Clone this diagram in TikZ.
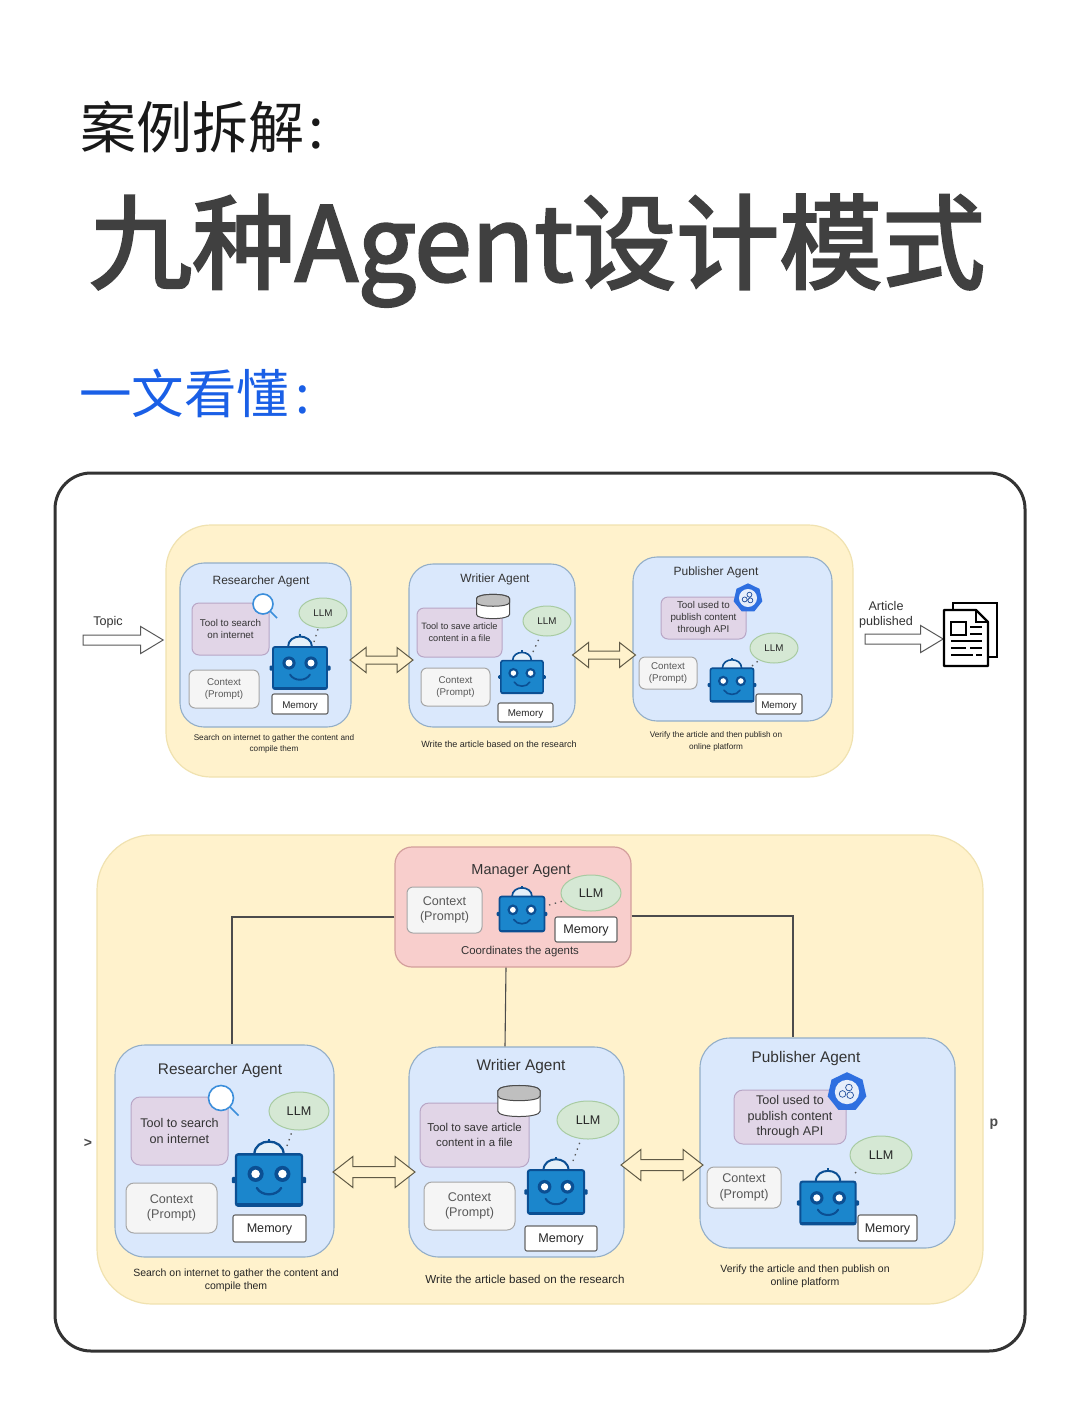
\documentclass[tikz,border=0pt]{standalone}
\usepackage{fontspec}
\setmainfont{Liberation Sans}
\newfontfamily\cjk{Noto Sans CJK SC}
\newfontfamily\cjkfat[FakeBold=2.6]{Noto Sans CJK SC}
\usetikzlibrary{shapes.geometric,shapes.arrows}

\definecolor{paneyellow}{HTML}{FFF2CC}
\definecolor{paneline}{HTML}{F0E2B0}
\definecolor{agentblue}{HTML}{DAE8FC}
\definecolor{agentline}{HTML}{93AEC8}
\definecolor{toolpurple}{HTML}{E1D5E7}
\definecolor{toolline}{HTML}{B8A6C6}
\definecolor{llmgreen}{HTML}{D5E8D4}
\definecolor{llmline}{HTML}{A8CBA2}
\definecolor{mgrred}{HTML}{F8CECC}
\definecolor{mgrline}{HTML}{D39F9C}
\definecolor{robotblue}{HTML}{1B86CC}
\definecolor{robotnavy}{HTML}{0B4F93}
\definecolor{inkgrey}{HTML}{333333}
\definecolor{lensblue}{HTML}{3B8EDB}
\definecolor{badgeblue}{HTML}{2E6FE0}
\definecolor{headblue}{HTML}{1A5FE6}

\tikzset{
	agent/.style={draw=agentline, fill=agentblue, line width=1.1pt, rounded corners=24pt},
	tool/.style={draw=toolline, fill=toolpurple, line width=1pt, rounded corners=7pt, align=center, text=inkgrey},
	context/.style={draw=black!35, fill=black!4, line width=1pt, rounded corners=6pt, align=center, text=black!65},
	memory/.style={draw=black!60, fill=white, line width=1.1pt, rounded corners=2pt, text=black!85, text height=1em, text depth=.2em},
	llm/.style={ellipse, draw=llmline, fill=llmgreen, line width=1pt, inner sep=0pt, text=black!85},
	llmlink/.style={line width=1.3pt, dash pattern=on 1.4pt off 4.6pt, black!65},
	wire/.style={draw=black!70, line width=1.1pt},
	title/.style={inkgrey, font=\fontsize{12}{14}\selectfont},
	bigtitle/.style={inkgrey, font=\fontsize{15.4}{18}\selectfont},
	note/.style={black!85, align=center, font=\fontsize{8.2}{11.5}\selectfont},
	bignote/.style={black!85, align=center, font=\fontsize{10.5}{13}\selectfont},
	small/.style={font=\fontsize{9.8}{12}\selectfont},
	large/.style={font=\fontsize{12.6}{15.5}\selectfont},
	thinarrow/.style={single arrow, draw=black!65, fill=white, line width=1pt, inner sep=4.5pt, minimum height=80pt,
		single arrow head extend=8.5pt, single arrow tip angle=62},
	swap/.style={double arrow, draw=black!60!paneline, fill=paneyellow, line width=1pt, inner sep=3.5pt, minimum height=63pt,
		double arrow head extend=8.5pt, double arrow tip angle=76},
	bigswap/.style={swap, inner sep=5pt, minimum height=82pt, double arrow head extend=10pt},
	pics/robot/.style={code={
		\draw[robotnavy, fill=robotblue!12] (-12,-21) .. controls (-12,-35) and (12,-35) .. (12,-21);
		\draw[robotnavy] (0,-31) -- (0,-34);
		\fill[robotnavy, rounded corners=1pt] (-30.5,-2.5) rectangle (-26,2.5) (26,-2.5) rectangle (30.5,2.5);
		\draw[robotnavy, fill=robotblue, rounded corners=2pt] (-27,-21) rectangle (27,21);
		\fill[robotnavy] (-27,19) rectangle (27,21);
		\fill[robotnavy] (-11,-5) circle (6.6) (11,-5) circle (6.6);
		\fill[white] (-11,-5) circle (3.5) (11,-5) circle (3.5);
		\draw[robotnavy, line cap=round] (-10,6.5) .. controls (-6,13.5) and (6,13.5) .. (10,6.5);
	}},
	pics/lens/.style={code={
		\draw[lensblue, line width=1.6pt] (7,7) -- (14,14);
		\draw[lensblue, fill=white, line width=1.6pt] (0,0) circle (10);
	}},
	pics/store/.style={code={
		\draw[black!70, fill=white, line width=1pt] (-16.5,-8) -- (-16.5,8) .. controls (-16.5,13.5) and (16.5,13.5) .. (16.5,8) -- (16.5,-8)
			.. controls (16.5,-13.5) and (-16.5,-13.5) .. (-16.5,-8);
		\draw[black!70, fill=black!25, line width=1pt] (-16.5,-8) .. controls (-16.5,-13.5) and (16.5,-13.5) .. (16.5,-8)
			-- (16.5,-4) .. controls (16.5,1) and (-16.5,1) .. (-16.5,-4) -- cycle;
	}},
	pics/badge/.style={code={
		\node[regular polygon, regular polygon sides=7, fill=badgeblue, minimum size=31pt, inner sep=0pt, transform shape] (poly) {};
		\fill[white!88!badgeblue] (0,0) circle (9.5);
		\draw[badgeblue!70!black, line width=.7pt] (-3.5,1.5) circle (2.6) (1.5,-3.5) circle (2.6) (2.5,2.5) circle (2.6);
	}},
}

\begin{document}
\begin{tikzpicture}[x=1pt, y=-1pt]
	\useasboundingbox (0,0) rectangle (1080,1414);

	% Headings
	\node[anchor=base west, inner sep=0pt, text=black!90, font=\cjk\fontsize{56}{60}\selectfont] (head1) at (80,148) {案例拆解\kern4pt:};
	\node[anchor=base west, inner sep=0pt, text=black!75, font=\cjkfat\fontsize{103}{110}\selectfont] (head2) at (89,281) {九种Agent设计模式};
	\node[anchor=base west, inner sep=0pt, text=headblue, font=\cjk\fontsize{52.5}{56}\selectfont] (head3) at (79,413) {一文看懂\kern6pt:};

	% Card
	\node[draw=black!80, fill=white, line width=3pt, rounded corners=36pt, minimum width=970pt, minimum height=878pt] (card) at (540,912) {};

	% Top panel
	\node[draw=paneline, fill=paneyellow, line width=1.2pt, rounded corners=45pt, minimum width=687pt, minimum height=252pt] (panel1) at (509.5,651) {};

	% Researcher
	\node[agent, minimum width=171pt, minimum height=164pt] (res1) at (265.5,645) {};
	\node[title] (res1title) at (261,581.5) {Researcher Agent};
	\node[tool, small, minimum width=77pt, minimum height=52pt] (res1tool) at (230.5,629) {Tool to search\\on internet};
	\pic at (263,604) {lens};
	\node[llm, small, minimum width=48pt, minimum height=30pt] (res1llm) at (323,613) {LLM};
	\node[context, small, minimum width=70pt, minimum height=38pt] (res1ctx) at (224,689) {Context\\(Prompt)};
	\node[memory, small, minimum width=56pt, minimum height=20pt] (res1mem) at (300,704) {Memory};
	\coordinate (res1tip) at (314,642);
	\draw[llmlink] (res1tip) -- (res1llm);
	\pic[line width=1.9pt] at (300,668) {robot};
	\node[note] (res1note) at (274,744) {Search on internet to gather the content and\\compile them};

	% Writer
	\node[agent, minimum width=166pt, minimum height=163pt] (wri1) at (492,645.5) {};
	\node[title] (wri1title) at (495,579.5) {Writier Agent};
	\node[tool, font=\fontsize{9.2}{12}\selectfont, minimum width=85pt, minimum height=49pt] (wri1tool) at (459.5,632.5) {Tool to save article\\content in a file};
	\pic at (493,606.5) {store};
	\node[llm, small, minimum width=48pt, minimum height=30pt] (wri1llm) at (547,621) {LLM};
	\node[context, small, minimum width=69pt, minimum height=38pt] (wri1ctx) at (455.5,687) {Context\\(Prompt)};
	\node[memory, small, minimum width=55pt, minimum height=19pt] (wri1mem) at (525.5,712.5) {Memory};
	\coordinate (wri1tip) at (533,652);
	\draw[llmlink] (wri1tip) -- (wri1llm);
	\pic[scale=.78, line width=1.6pt] at (522,677) {robot};
	\node[note, font=\fontsize{9.05}{11.5}\selectfont] (wri1note) at (499,744) {Write the article based on the research};

	% Publisher
	\node[agent, minimum width=199pt, minimum height=164pt] (pub1) at (732.5,639) {};
	\node[title] (pub1title) at (716,572.5) {Publisher Agent};
	\node[tool, small, minimum width=85pt, minimum height=42pt] (pub1tool) at (703.5,618) {Tool used to\\publish content\\through API};
	\pic[scale=.95] at (748,598) {badge};
	\node[llm, small, minimum width=48pt, minimum height=30pt] (pub1llm) at (774,648) {LLM};
	\node[context, small, minimum width=58pt, minimum height=32pt] (pub1ctx) at (668,673) {Context\\(Prompt)};
	\node[memory, small, minimum width=46pt, minimum height=20pt] (pub1mem) at (779,704) {Memory};
	\coordinate (pub1tip) at (752,666);
	\draw[llmlink] (pub1tip) -- (pub1llm);
	\pic[scale=.8, line width=1.6pt] at (732,685) {robot};
	\node[note] (pub1note) at (716,741.5) {Verify the article and then publish on\\online platform};

	% Arrows of the top panel
	\node[swap] (swap1) at (381.5,660) {};
	\node[swap] (swap2) at (604,655) {};
	\node[thinarrow] (topicarrow) at (119,640) {};
	\node[inkgrey, large] (topic) at (108,622) {Topic};
	\node[thinarrow, minimum height=78pt] (publishedarrow) at (900,639) {};
	\node[inkgrey, large, align=center] (published) at (886,614.5) {Article\\published};

	% Document
	\draw[black, fill=white, line width=2.3pt] (953,610) -- (953,603) -- (997,603) -- (997,657) -- (987,657);
	\draw[black, fill=white, line width=2.3pt, line join=round] (944,610) -- (976,610) -- (988,622) -- (988,666) -- (944,666) -- cycle;
	\draw[black, line width=1.2pt] (976,610) -- (976,622) -- (988,622);
	\draw[black, line width=1.8pt] (951,622) rectangle (966,635);
	\draw[black, line width=2pt] (970,627) -- (982,627) (970,634) -- (982,634) (951,641) -- (982,641)
		(951,648) -- (966,648) (970,648) -- (982,648) (951,655) -- (973,655) (976,655) -- (982,655);

	% Bottom panel
	\node[draw=paneline, fill=paneyellow, line width=1.2pt, rounded corners=55pt, minimum width=886pt, minimum height=469pt] (panel2) at (540,1069.5) {};

	% Manager
	\node[draw=mgrline, fill=mgrred, line width=1.2pt, rounded corners=17pt, minimum width=236pt, minimum height=120pt] (mgr) at (513,907) {};
	\node[inkgrey, font=\fontsize{14.5}{17}\selectfont] (mgrtitle) at (521,871.5) {Manager Agent};
	\node[context, large, minimum width=75pt, minimum height=46pt] (mgrctx) at (444.5,910) {Context\\(Prompt)};
	\node[llm, large, minimum width=60pt, minimum height=36pt] (mgrllm) at (591,893) {LLM};
	\node[memory, large, minimum width=62pt, minimum height=25pt] (mgrmem) at (586,929.5) {Memory};
	\coordinate (mgrtip) at (549,905);
	\draw[llmlink] (mgrtip) -- (mgrllm);
	\pic[scale=.83, line width=1.7pt] at (522,914) {robot};
	\node[black!80, font=\fontsize{11.4}{14}\selectfont] (mgrnote) at (520,951.5) {Coordinates the agents};

	% Researcher
	\node[agent, rounded corners=30pt, minimum width=219pt, minimum height=212pt] (res2) at (224.5,1151) {};
	\node[bigtitle] (res2title) at (220,1070.5) {Researcher Agent};
	\node[tool, large, rounded corners=9pt, minimum width=97pt, minimum height=68pt] (res2tool) at (179.5,1131) {Tool to search\\on internet};
	\pic[scale=1.25] at (221,1098) {lens};
	\node[llm, large, minimum width=60pt, minimum height=38pt] (res2llm) at (299,1111) {LLM};
	\node[context, large, rounded corners=8pt, minimum width=91pt, minimum height=50pt] (res2ctx) at (171.5,1208) {Context\\(Prompt)};
	\node[memory, large, minimum width=73pt, minimum height=27pt] (res2mem) at (269.5,1228.5) {Memory};
	\coordinate (res2tip) at (287,1146);
	\draw[llmlink] (res2tip) -- (res2llm);
	\pic[scale=1.22, line width=2.3pt] at (269,1180) {robot};
	\node[bignote] (res2note) at (236,1280) {Search on internet to gather the content and\\compile them};

	% Writer
	\node[agent, rounded corners=30pt, minimum width=215pt, minimum height=210pt] (wri2) at (516.5,1152) {};
	\node[bigtitle] (wri2title) at (521,1066.5) {Writier Agent};
	\node[tool, font=\fontsize{11.4}{15.5}\selectfont, rounded corners=9pt, minimum width=109pt, minimum height=64pt] (wri2tool) at (474.5,1135) {Tool to save article\\content in a file};
	\pic[scale=1.28] at (519,1101) {store};
	\node[llm, large, minimum width=62pt, minimum height=38pt] (wri2llm) at (588,1120) {LLM};
	\node[context, large, rounded corners=8pt, minimum width=91pt, minimum height=48pt] (wri2ctx) at (469.5,1206) {Context\\(Prompt)};
	\node[memory, large, minimum width=72pt, minimum height=25pt] (wri2mem) at (561,1238.5) {Memory};
	\coordinate (wri2tip) at (573,1161);
	\draw[llmlink] (wri2tip) -- (wri2llm);
	\pic[scale=1.04, line width=2pt] at (556,1192) {robot};
	\node[bignote, font=\fontsize{11.6}{13}\selectfont] (wri2note) at (525,1279) {Write the article based on the research};

	% Publisher
	\node[agent, rounded corners=30pt, minimum width=255pt, minimum height=210pt] (pub2) at (827.5,1143) {};
	\node[bigtitle] (pub2title) at (806,1058.5) {Publisher Agent};
	\node[tool, large, rounded corners=9pt, minimum width=112pt, minimum height=54pt] (pub2tool) at (790,1117) {Tool used to\\publish content\\through API};
	\pic[scale=1.28] at (847,1092) {badge};
	\node[llm, large, minimum width=62pt, minimum height=38pt] (pub2llm) at (881,1155) {LLM};
	\node[context, large, rounded corners=7pt, minimum width=74pt, minimum height=41pt] (pub2ctx) at (744,1187.5) {Context\\(Prompt)};
	\node[memory, large, minimum width=59pt, minimum height=26pt] (pub2mem) at (887.5,1228) {Memory};
	\coordinate (pub2tip) at (855,1173);
	\draw[llmlink] (pub2tip) -- (pub2llm);
	\pic[scale=1.02, line width=2pt] at (828,1203) {robot};
	\node[bignote] (pub2note) at (805,1276.5) {Verify the article and then publish on\\online platform};

	% Arrows of the bottom panel
	\node[bigswap] (swap3) at (374,1172) {};
	\node[bigswap] (swap4) at (662,1165) {};

	% Wires from the manager
	\draw[wire] ([yshift=-10pt]mgr.west) -| ([xshift=7.5pt]res2.north);
	\draw[wire] ([yshift=-9pt]mgr.east) -| ([xshift=-34.5pt]pub2.north);
	\draw[wire] ([xshift=-7pt]mgr.south) -- ([xshift=-11.5pt]wri2.north);

	% Cut off at the edges of the picture
	\node[black!70, font=\bfseries\fontsize{14}{16}\selectfont] (cutleft) at (88,1143) {>};
	\node[black!70, font=\bfseries\fontsize{14}{16}\selectfont, inner sep=0pt] (cutright) at (994,1124) {p};
\end{tikzpicture}
\end{document}
